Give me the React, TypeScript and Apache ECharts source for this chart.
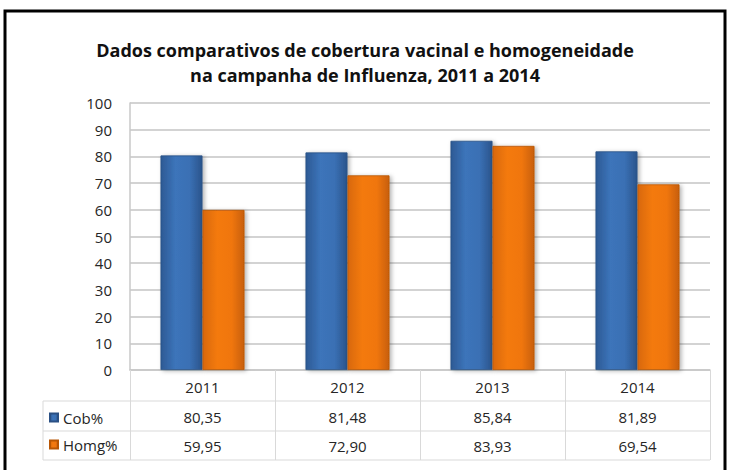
import React, { useEffect, useRef } from "react";
import * as echarts from "echarts";

const titleLines = [
  "Dados comparativos de cobertura vacinal e homogeneidade",
  "na campanha de Influenza, 2011 a 2014",
];
const years = ["2011", "2012", "2013", "2014"];
const cobName = "Cob%";
const homgName = "Homg%";
const cobValues = [80.35, 81.48, 85.84, 81.89];
const homgValues = [59.95, 72.9, 83.93, 69.54];
const yMin = 0;
const yMax = 100;
const yStep = 10;

const fmt = (v: number) => v.toFixed(2).replace(".", ",");

const FONT = "'Open Sans', Lato, sans-serif";
const TXT = "#262626";
const LINE = "#d9d9d9";

const blueGrad = new echarts.graphic.LinearGradient(0, 0, 1, 0, [
  { offset: 0, color: "#2d5a94" },
  { offset: 0.35, color: "#3c74ba" },
  { offset: 0.7, color: "#3a70b4" },
  { offset: 1, color: "#2a548c" },
]);
const orangeGrad = new echarts.graphic.LinearGradient(0, 0, 1, 0, [
  { offset: 0, color: "#d8680a" },
  { offset: 0.35, color: "#f47a10" },
  { offset: 0.7, color: "#f07610" },
  { offset: 1, color: "#c85f08" },
]);

export default function App() {
  const ref = useRef<HTMLDivElement>(null);
  useEffect(() => {
    if (!ref.current) return;
    const chart = echarts.init(ref.current, undefined, { renderer: "svg" });
    const gridLeft = 130;
    const gridRight = 710;
    const axisY = 370;
    const tableLeft = 43;
    const rowLines = [401, 431, 460];
    const valueAxis = (data: string[], offset: number) => ({
      type: "category",
      data,
      position: "bottom",
      offset,
      gridIndex: 0,
      axisLine: { show: false },
      axisTick: { show: false },
      splitLine: { show: false },
      axisLabel: { color: TXT, fontSize: 15, fontFamily: FONT, margin: 9, interval: 0 },
    });
    chart.setOption({
      animation: false,
      backgroundColor: "#ffffff",
      title: {
        text: titleLines.join("\n"),
        left: "center",
        top: 32,
        textStyle: {
          fontFamily: FONT,
          fontWeight: "bold",
          fontSize: 18,
          lineHeight: 25,
          color: "#111",
        },
      },
      legend: {
        orient: "vertical",
        left: 49,
        top: 410,
        padding: 0,
        itemWidth: 8,
        itemHeight: 8,
        itemGap: 12,
        icon: "rect",
        textStyle: { color: TXT, fontSize: 15, fontFamily: FONT },
        data: [cobName, homgName],
      },
      grid: { left: gridLeft, right: 730 - gridRight, top: 103, bottom: 470 - axisY },
      xAxis: [
        {
          type: "category",
          data: years,
          axisLine: { show: true, lineStyle: { color: "#c8c8c8", width: 1.5 } },
          axisTick: { show: true, length: 90, interval: 0, lineStyle: { color: LINE } },
          axisLabel: { color: TXT, fontSize: 15, fontFamily: FONT, margin: 9 },
        },
        valueAxis(cobValues.map(fmt), 30),
        valueAxis(homgValues.map(fmt), 59),
      ],
      yAxis: {
        type: "value",
        min: yMin,
        max: yMax,
        interval: yStep,
        axisLine: { show: true, lineStyle: { color: "#c8c8c8", width: 1.5 } },
        axisTick: { show: false },
        axisLabel: { color: TXT, fontSize: 15, fontFamily: FONT, margin: 18 },
        splitLine: { lineStyle: { color: "#c4c4c4", width: 1.5 } },
      },
      series: [
        {
          name: cobName,
          type: "bar",
          data: cobValues,
          barWidth: 42,
          barGap: "0%",
          itemStyle: {
            color: blueGrad,
            borderColor: "#2a5084",
            borderWidth: 0.8,
            shadowColor: "rgba(0,0,0,0.3)",
            shadowBlur: 4,
            shadowOffsetX: 2,
            shadowOffsetY: 1,
          },
        },
        {
          name: homgName,
          type: "bar",
          data: homgValues,
          barWidth: 42,
          barGap: "0%",
          itemStyle: {
            color: orangeGrad,
            borderColor: "#b85605",
            borderWidth: 0.8,
            shadowColor: "rgba(0,0,0,0.3)",
            shadowBlur: 4,
            shadowOffsetX: 2,
            shadowOffsetY: 1,
          },
        },
      ],
      graphic: [
        {
          type: "rect",
          shape: { x: 5, y: 11, width: 720, height: 520 },
          style: { fill: "none", stroke: "#000", lineWidth: 3 },
          silent: true,
        },
        ...rowLines.map((y) => ({
          type: "line",
          shape: { x1: tableLeft, y1: y, x2: gridRight, y2: y },
          style: { stroke: LINE, lineWidth: 1 },
          silent: true,
        })),
        {
          type: "line",
          shape: { x1: tableLeft, y1: rowLines[0], x2: tableLeft, y2: rowLines[2] },
          style: { stroke: LINE, lineWidth: 1 },
          silent: true,
        },
      ],
    });
    return () => chart.dispose();
  }, []);
  return (
    <div
      ref={ref}
      style={{ position: "fixed", left: 0, top: 0, width: 730, height: 470 }}
    />
  );
}
